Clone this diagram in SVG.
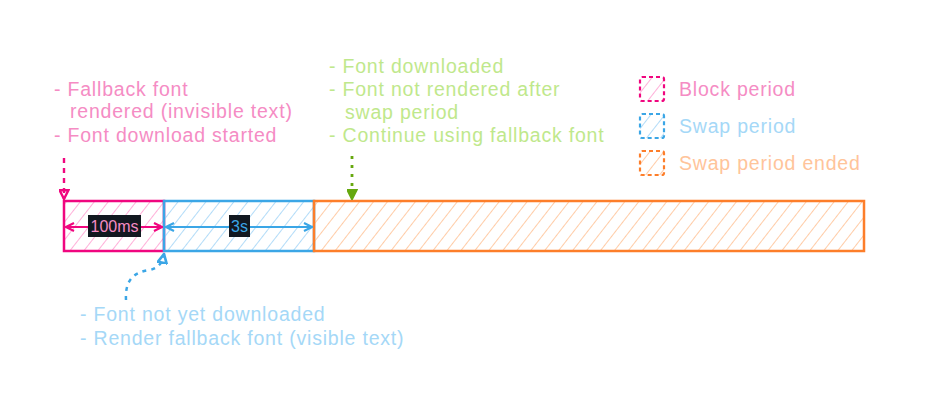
<svg xmlns="http://www.w3.org/2000/svg" width="929" height="404" viewBox="0 0 929 404">
<defs>
<style>
text{font-family:"Liberation Sans",Arial,sans-serif;font-size:19.5px;letter-spacing:0.8px}
.pk{fill:#f58cc4}
.gr{fill:#bfe88c}
.bl{fill:#a5d8f7}
.or{fill:#ffc49a}
.box{stroke-width:2.5}
.leg{stroke-width:2.2;stroke-dasharray:4 3}
</style>
<pattern id="hp" width="11" height="11" patternUnits="userSpaceOnUse" patternTransform="rotate(38)"><line x1="0" y1="0" x2="0" y2="11" stroke="#ff9ccf" stroke-width="1.6"/></pattern>
<pattern id="hb" width="11" height="11" patternUnits="userSpaceOnUse" patternTransform="rotate(38)"><line x1="0" y1="0" x2="0" y2="11" stroke="#9fd3f6" stroke-width="1.6"/></pattern>
<pattern id="ho" width="11" height="11" patternUnits="userSpaceOnUse" patternTransform="rotate(38)"><line x1="0" y1="0" x2="0" y2="11" stroke="#ffbf90" stroke-width="1.6"/></pattern>
<marker id="ap" viewBox="0 0 10 10" refX="9" refY="5" markerWidth="10" markerHeight="10" markerUnits="userSpaceOnUse" orient="auto-start-reverse"><path d="M1,1 L9,5 L1,9" fill="none" stroke="#f0067f" stroke-width="2.2"/></marker>
<marker id="ab" viewBox="0 0 10 10" refX="9" refY="5" markerWidth="10" markerHeight="10" markerUnits="userSpaceOnUse" orient="auto-start-reverse"><path d="M1,1 L9,5 L1,9" fill="none" stroke="#3ba6e6" stroke-width="2.2"/></marker>
<marker id="tp" viewBox="0 0 10 10" refX="9" refY="5" markerWidth="11" markerHeight="11" markerUnits="userSpaceOnUse" orient="auto"><path d="M1,1 L9,5 L1,9 Z" fill="none" stroke="#f0067f" stroke-width="2.2"/></marker>
<marker id="tg" viewBox="0 0 10 10" refX="9" refY="5" markerWidth="11" markerHeight="11" markerUnits="userSpaceOnUse" orient="auto"><path d="M1,1 L9,5 L1,9 Z" fill="#66a80f" stroke="#66a80f" stroke-width="2"/></marker>
<marker id="tb" viewBox="0 0 10 10" refX="9" refY="5" markerWidth="11" markerHeight="11" markerUnits="userSpaceOnUse" orient="auto"><path d="M1,1 L9,5 L1,9 Z" fill="none" stroke="#3ba6e6" stroke-width="2.4"/></marker>
</defs>
<rect width="929" height="404" fill="#ffffff"/>

<g id="block-period">
<rect x="64" y="201" width="100" height="50" fill="url(#hp)" stroke="#f0067f" class="box"/>
</g>
<g id="swap-period">
<rect x="164" y="201" width="150" height="50" fill="url(#hb)" stroke="#3ba6e6" class="box"/>
</g>
<g id="swap-ended">
<rect x="314" y="201" width="550" height="50" fill="url(#ho)" stroke="#fd7e2a" class="box"/>
</g>

<g id="connectors" fill="none">
<line x1="66" y1="227" x2="162" y2="227" stroke="#f0067f" stroke-width="2" marker-start="url(#ap)" marker-end="url(#ap)"/>
<line x1="166" y1="227" x2="312" y2="227" stroke="#3ba6e6" stroke-width="2" marker-start="url(#ab)" marker-end="url(#ab)"/>
<line x1="64" y1="158" x2="64" y2="199" stroke="#f0067f" stroke-width="2.4" stroke-dasharray="5 5" marker-end="url(#tp)"/>
<line x1="352" y1="156" x2="352" y2="199" stroke="#66a80f" stroke-width="2.8" stroke-dasharray="3 6" marker-end="url(#tg)"/>
<path d="M126,300 C125,282 132,272 150,270 C158,268 162,264 164,254" stroke="#3ba6e6" stroke-width="2.5" stroke-dasharray="4 5" marker-end="url(#tb)"/>
</g>

<g id="label-100ms">
<rect x="88" y="215" width="53" height="22" fill="#121820"/>
<text x="114.5" y="232" text-anchor="middle" class="pk" style="font-size:16px;letter-spacing:0">100ms</text>
</g>
<g id="label-3s">
<rect x="229" y="215" width="21" height="22" fill="#121820"/>
<text x="239.5" y="232" text-anchor="middle" style="font-size:16px;letter-spacing:0;fill:#3ba6e6">3s</text>
</g>

<g id="note-pink">
<text x="54" y="96" class="pk">- Fallback font</text>
<text x="70" y="118" class="pk">rendered (invisible text)</text>
<text x="54" y="142" class="pk">- Font download started</text>
</g>

<g id="note-green">
<text x="329" y="73" class="gr">- Font downloaded</text>
<text x="329" y="96" class="gr">- Font not rendered after</text>
<text x="345" y="119" class="gr">swap period</text>
<text x="329" y="142" class="gr">- Continue using fallback font</text>
</g>

<g id="note-blue">
<text x="80" y="321" class="bl">- Font not yet downloaded</text>
<text x="80" y="345" class="bl">- Render fallback font (visible text)</text>
</g>

<g id="legend">
<rect x="640" y="77" width="24" height="24" rx="2" fill="url(#hp)" stroke="#f0067f" class="leg"/>
<text x="679" y="96" class="pk">Block period</text>
<rect x="640" y="114" width="24" height="24" rx="2" fill="url(#hb)" stroke="#3ba6e6" class="leg"/>
<text x="679" y="133" class="bl">Swap period</text>
<rect x="640" y="151" width="24" height="24" rx="2" fill="url(#ho)" stroke="#fd7e2a" class="leg"/>
<text x="679" y="170" class="or">Swap period ended</text>
</g>
</svg>
